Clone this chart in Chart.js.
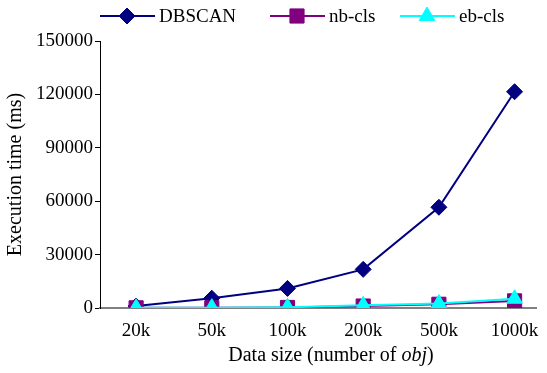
<!DOCTYPE html>
<html>
<head>
<meta charset="utf-8">
<script src="https://cdn.jsdelivr.net/npm/chart.js@4"></script>
<style>
  html, body { margin: 0; padding: 0; background: #fff; }
  #wrap { width: 547px; height: 373px; }
</style>
</head>
<body>
<div id="wrap"><canvas id="chart" width="547" height="373"></canvas></div>
<script>
// data
const categories = ['20k', '50k', '100k', '200k', '500k', '1000k'];
const dbscan = [1100, 5500, 11000, 21700, 56600, 121500];
const nbCls = [100, 150, 300, 1100, 2100, 4000];
const ebCls = [150, 200, 400, 1500, 2500, 5200];
const yTicks = [0, 30000, 60000, 90000, 120000, 150000];

const serif = '"Liberation Serif", "DejaVu Serif", serif';

function toPoints(arr) {
  return arr.map((v, i) => ({ x: i, y: v }));
}

// legend: line + marker + label, drawn at the top
const legendPlugin = {
  id: 'topLegend',
  afterDraw(chart) {
    const ctx = chart.ctx;
    const items = [
      { ds: 0, x: 100 },
      { ds: 1, x: 270 },
      { ds: 2, x: 400 }
    ];
    const y = 16;
    items.forEach(it => {
      const d = chart.data.datasets[it.ds];
      ctx.save();
      ctx.strokeStyle = d.borderColor;
      ctx.lineWidth = 2;
      ctx.beginPath();
      ctx.moveTo(it.x, y);
      ctx.lineTo(it.x + 55, y);
      ctx.stroke();
      ctx.fillStyle = d.backgroundColor;
      ctx.lineWidth = 1;
      Chart.helpers.drawPoint(ctx, {
        pointStyle: d.pointStyle,
        radius: d.pointRadius,
        borderWidth: 1
      }, it.x + 27, y);
      ctx.fillStyle = '#000';
      ctx.font = '19px ' + serif;
      ctx.textBaseline = 'middle';
      ctx.fillText(d.label, it.x + 59, y + 1);
      ctx.restore();
    });
  }
};

// x-axis title with the italic "obj"
const xTitlePlugin = {
  id: 'xTitle',
  afterDraw(chart) {
    const ctx = chart.ctx;
    const parts = [
      { t: 'Data size (number of ', f: '20px ' + serif },
      { t: 'obj', f: 'italic 20px ' + serif },
      { t: ')', f: '20px ' + serif }
    ];
    ctx.save();
    let total = 0;
    parts.forEach(p => { ctx.font = p.f; p.w = ctx.measureText(p.t).width; total += p.w; });
    let x = 331 - total / 2;
    ctx.fillStyle = '#000';
    ctx.textBaseline = 'middle';
    parts.forEach(p => { ctx.font = p.f; ctx.fillText(p.t, x, 356); x += p.w; });
    ctx.restore();
  }
};

const ctx = document.getElementById('chart').getContext('2d');
new Chart(ctx, {
  type: 'line',
  data: {
    datasets: [
      {
        label: 'DBSCAN',
        data: toPoints(dbscan),
        borderColor: '#000080',
        backgroundColor: '#000080',
        pointStyle: 'rectRot',
        pointRadius: 8,
        pointBorderWidth: 1,
        borderWidth: 2,
        order: 2
      },
      {
        label: 'nb-cls',
        data: toPoints(nbCls),
        borderColor: '#800080',
        backgroundColor: '#800080',
        pointStyle: 'rect',
        pointRadius: 10,
        pointBorderWidth: 1,
        borderWidth: 2,
        order: 1
      },
      {
        label: 'eb-cls',
        data: toPoints(ebCls),
        borderColor: '#00ffff',
        backgroundColor: '#00ffff',
        pointStyle: 'triangle',
        pointRadius: 9,
        pointBorderWidth: 1,
        borderWidth: 2,
        order: 0
      }
    ]
  },
  options: {
    responsive: false,
    animation: false,
    layout: { padding: { top: 41, right: 0, left: 0, bottom: 0 } },
    plugins: {
      legend: { display: false },
      tooltip: { enabled: false }
    },
    scales: {
      x: {
        type: 'linear',
        min: -0.477,
        max: 5.283,
        afterBuildTicks: s => { s.ticks = categories.map((c, i) => ({ value: i })); },
        afterFit: s => { s.height = 65; },
        grid: { display: false },
        border: { color: '#808080', width: 2 },
        ticks: {
          callback: v => categories[v],
          color: '#000',
          font: { family: serif, size: 19 },
          padding: 4,
          maxRotation: 0
        }
      },
      y: {
        min: 0,
        max: 150000,
        afterBuildTicks: s => { s.ticks = yTicks.map(v => ({ value: v })); },
        afterFit: s => { s.width = 100; },
        grid: { drawOnChartArea: false, color: '#000', tickLength: 5 },
        border: { color: '#000', width: 1 },
        ticks: {
          callback: v => String(v),
          color: '#000',
          font: { family: serif, size: 19 },
          padding: 2
        },
        title: {
          display: true,
          text: 'Execution time (ms)',
          color: '#000',
          font: { family: serif, size: 20 },
          padding: { top: 4, bottom: 0 }
        }
      }
    }
  },
  plugins: [legendPlugin, xTitlePlugin]
});
</script>
</body>
</html>
